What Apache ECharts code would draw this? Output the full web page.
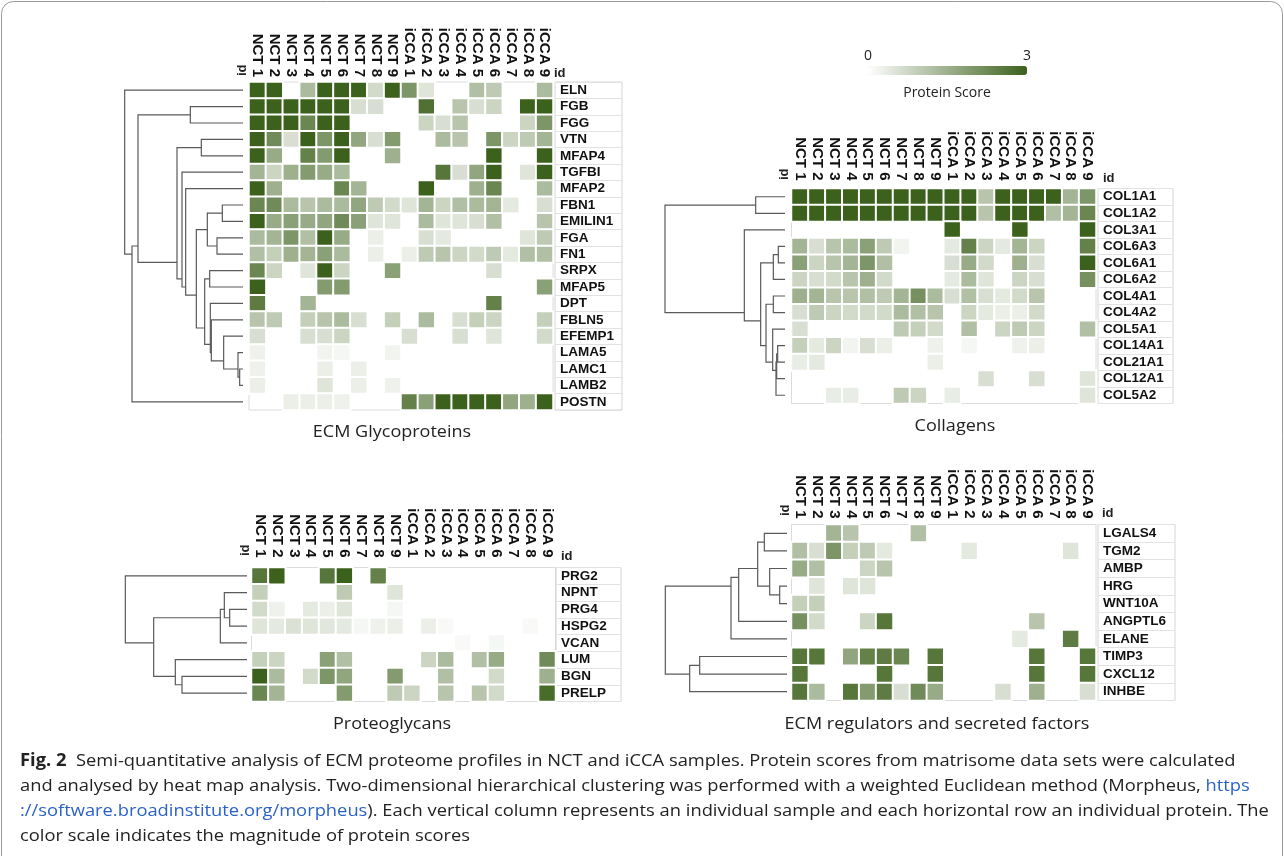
<!DOCTYPE html>
<html><head><meta charset="utf-8">
<script src="https://cdn.jsdelivr.net/npm/echarts@6/dist/echarts.min.js"></script>
<style>html,body{margin:0;padding:0;background:#fff}#c{width:1284px;height:856px}</style>
</head><body><div id="c"></div>
<script>
// ---------------- DATA ----------------
const samples = ['NCT 1','NCT 2','NCT 3','NCT 4','NCT 5','NCT 6','NCT 7','NCT 8','NCT 9',
  'iCCA 1','iCCA 2','iCCA 3','iCCA 4','iCCA 5','iCCA 6','iCCA 7','iCCA 8','iCCA 9'];

const glycoRows = ['ELN','FGB','FGG','VTN','MFAP4','TGFBI','MFAP2','FBN1','EMILIN1','FGA','FN1','SRPX','MFAP5','DPT','FBLN5','EFEMP1','LAMA5','LAMC1','LAMB2','POSTN'];
const glycoValues = [
  [3,3,0,1.3,3,3,3,0.7,3,2,0.5,0,0,1.2,1,0,0,1.3],
  [3,3,3,3,3,3,0.6,0.6,0,0,2.7,0,1.1,0.6,0.8,0,3,3],
  [3,3,3,2.3,3,3,0,0,0,0,0.8,0.6,1.1,0,0,0,0.8,2],
  [3,2.2,0.6,3,2,3,1.7,0.6,1.9,0,0,1.3,1.1,0,2,0.8,1,1.4],
  [3,1.6,0,2.4,1.9,3,0,0,1.5,0,0,0,0,0,3,0,0,3],
  [1.4,0.8,1.5,1.9,1.6,1.3,0,0,0,0,0,2.6,0.6,1.7,3,0,0.5,3],
  [3,1.5,0,0,0,2.3,1.4,0,0,0,3,0,0,1.5,2.3,0,0,1.3],
  [2.3,2.2,1.3,1.1,1.3,1.3,1.7,1,0.7,0.5,1.4,0.8,1.2,1.3,1.4,0.4,0,0.6],
  [3,1.6,1.8,1.6,1.7,2.2,1.8,0.5,0.5,0,1.3,0.5,0.5,0.6,1.2,0,0,1.1],
  [1.3,1.4,2,1.2,3,1.6,0,0.3,0,0,0.6,0.4,0,0,0,0,0.5,1],
  [1.2,0.9,1.5,1.4,1.8,1.3,0,0.3,0,0.3,1,1.1,0.8,0.7,1,0.4,1.2,1.2],
  [2.3,0.8,0,0.5,3,0.8,0,0,1.8,0,0,0,0,0,0.6,0,0,0],
  [3,0,0,0,1.9,1.9,0,0,0,0,0,0,0,0,0,0,0,1.8],
  [2.5,0,0,1.4,0,0,0,0,0,0,0,0,0,0,2.4,0,0,0],
  [1.1,1,0,0.9,1.1,1.3,0.6,0,0.9,0,1.3,0,0.6,0.9,0.8,0,0,0.9],
  [0.6,0,0,0.6,0.6,0.8,0,0,0,0.6,0,0,0.6,0,0.5,0,0,0.7],
  [0.25,0,0,0,0.2,0.15,0,0,0.2,0,0,0,0,0,0,0,0,0],
  [0.25,0,0,0,0.3,0,0.3,0,0,0,0,0,0,0,0,0,0,0],
  [0.3,0,0,0,0.5,0,0.3,0,0.25,0,0,0,0,0,0,0,0,0],
  [0,0,0.3,0.3,0.3,0.25,0,0,0,2.4,1.8,3,3,3,3,1.7,1.5,3]
];
const glycoTree = [355,'ELN',[333,[315,[158,'FGB','FGG'],[198,[125,'VTN','MFAP4'],[183,'TGFBI',[172,'MFAP2',[140,[107,[62,'FBN1','EMILIN1'],[78,'FGA','FN1']],[115,[100,'SRPX','MFAP5'],[98,'DPT',[95,'FBLN5',[58,'EFEMP1',[15,'LAMA5',[10,'LAMC1','LAMB2']]]]]]]]]]],'POSTN']];

const collRows = ['COL1A1','COL1A2','COL3A1','COL6A3','COL6A1','COL6A2','COL4A1','COL4A2','COL5A1','COL14A1','COL21A1','COL12A1','COL5A2'];
const collValues = [
  [3,3,3,3,3,3,3,3,3,3,3,1.1,3,3,3,3,1.4,2],
  [3,3,3,3,3,3,3,3,3,3,3,1.1,3,3,3,1.2,1.4,2.3],
  [0,0,0,0,0,0,0,0,0,3,0,0,0,3,0,0,0,3],
  [1.4,0.6,1.1,1.3,1.8,1,0.2,0,0,0.4,2.4,0.8,0.4,1.4,0.8,0,0,2.4],
  [1.8,0.8,1.1,1.4,2,1.2,0,0,0,0.6,1.6,0.7,0,1.5,0.6,0,0,3],
  [0.8,0.6,0.7,1.1,1.5,0.7,0,0,0,0.4,1.3,0.5,0,0.8,0.6,0,0,2.1],
  [1.5,1.4,1.1,1.1,1.2,1,1.4,2.1,1.3,0.6,1.2,0.6,0.4,0.7,1.1,0,0,0],
  [0.6,1,0.8,0.7,0.7,0.7,1.3,1.2,1.1,0,0.8,0.4,0.3,0.3,0.7,0,0,0],
  [0.6,0,0,0,0,0,1,0.9,0.7,0,1.2,0,0.8,1,0.8,0,0,1.2],
  [0.9,0.4,0.8,0.2,0.6,0.3,0,0,0.25,0,0.15,0,0,0.25,0.3,0,0,0],
  [0.35,0.4,0,0,0,0,0,0,0.3,0,0,0,0,0,0,0,0,0],
  [0,0,0,0,0,0,0,0,0,0,0,0.6,0,0,0.6,0,0,0.5],
  [0,0,0.35,0.35,0,0,1,0.8,0,0.35,0,0,0,0,0,0,0,0.5]
];
const collTree = [360,[88,'COL1A1','COL1A2'],[122,'COL3A1',[73,[35,[20,'COL6A3','COL6A1'],'COL6A2'],[57,[35,'COL4A1','COL4A2'],[37,'COL5A1',[27,[25,[22,'COL14A1','COL21A1'],'COL12A1'],'COL5A2']]]]]];

const proteoRows = ['PRG2','NPNT','PRG4','HSPG2','VCAN','LUM','BGN','PRELP'];
const proteoValues = [
  [2.6,3,0,0,2.6,3,0,2.4,0,0,0,0,0,0,0,0,0,0],
  [0.9,0,0,0,0,1,0,0,0.5,0,0,0,0,0,0,0,0,0],
  [0.7,0.25,0,0.4,0.3,0.5,0,0,0.15,0,0,0,0,0,0,0,0,0],
  [0.5,0.4,0.55,0.5,0.45,0.4,0.15,0.25,0.3,0,0.3,0.1,0,0,0,0,0.1,0],
  [0,0,0,0,0,0,0,0,0,0,0,0,0.1,0,0.15,0,0,0],
  [0.9,0.8,0,0,1.8,1.2,0,0,0,0,0.8,1.3,0,1.2,1.6,0,0,2.2],
  [3,1.3,0,0.7,2,1.7,0,0,1.9,0,0,1.2,0,0,0.7,0,0,1.5],
  [2.3,1.4,0,0,0,1.9,0,0,1,0.8,0,1.1,0,1.1,0.7,0,0,2.8]
];
const proteoTree = [365,'PRG2',[280,[80,[68,'NPNT',[52,'PRG4','HSPG2']],'VCAN'],[215,'LUM',[195,'BGN','PRELP']]]];

const regRows = ['LGALS4','TGM2','AMBP','HRG','WNT10A','ANGPTL6','ELANE','TIMP3','CXCL12','INHBE'];
const regValues = [
  [0,0,1.4,1.1,0,0,0,1.2,0,0,0,0,0,0,0,0,0,0],
  [1.2,0.6,2,0.9,1,0.4,0,0,0,0,0.4,0,0,0,0,0,0.5,0],
  [1.6,1.2,0,0,0.8,1.1,0,0,0,0,0,0,0,0,0,0,0,0],
  [0,0.5,0,0.5,0.5,0,0,0,0,0,0,0,0,0,0,0,0,0],
  [0.9,0.9,0,0,0,0,0,0,0,0,0,0,0,0,0,0,0,0],
  [2.1,0.7,0,0,0.8,2.6,0,0,0,0,0,0,0,0,1.1,0,0,0],
  [0,0,0,0,0,0,0,0,0,0,0,0,0,0.4,0,0,2.5,0],
  [2.6,2.6,0,1.7,2.4,2.5,2.3,0,2.6,0,0,0,0,0,2.6,0,0,2.6],
  [2.6,0,0,0,0,2.6,0,0,2.6,0,0,0,0,0,2.6,0,0,2.6],
  [2.6,1.3,0,2.6,1.9,2.5,0.6,2.2,1.6,0,0,0,0.6,0,1.5,0,0,0.6]
];
const regTree = [365,[168,[145,[88,[68,'LGALS4','TGM2'],[52,'AMBP',[22,'HRG','WNT10A']]],'ANGPTL6'],'ELANE'],[292,[262,'TIMP3','CXCL12'],'INHBE']];

const panelTitles = ['ECM Glycoproteins','Collagens','Proteoglycans','ECM regulators and secreted factors'];
const idLabel = 'id';
const scaleMin = 0, scaleMax = 3;
const scaleTicks = ['0','3'];
const scaleName = 'Protein Score';
const captionLines = [
  '{b|Fig. 2}  Semi-quantitative analysis of ECM proteome profiles in NCT and iCCA samples. Protein scores from matrisome data sets were calculated',
  'and analysed by heat map analysis. Two-dimensional hierarchical clustering was performed with a weighted Euclidean method (Morpheus, {a|https}',
  '{a|://software.broadinstitute.org/morpheus}). Each vertical column represents an individual sample and each horizontal row an individual protein. The',
  'color scale indicates the magnitude of protein scores'
];

// ---------------- LAYOUT ----------------
const panels = [
  {rows:glycoRows, values:glycoValues, tree:glycoTree,
   hm:{left:249, top:82, width:304, height:328}, lab:{left:555, width:67}, den:{right:243, width:120, max:360},
   margin:5, idL:[242,76], idR:[554,73], title:[392,432]},
  {rows:collRows, values:collValues, tree:collTree,
   hm:{left:791.5, top:188.5, width:304.5, height:215}, lab:{left:1098, width:75}, den:{right:785, width:120, max:360},
   margin:8, idL:[784,180], idR:[1103,178], title:[955,426]},
  {rows:proteoRows, values:proteoValues, tree:proteoTree,
   hm:{left:251.5, top:567.5, width:304, height:134}, lab:{left:556, width:65}, den:{right:247, width:122, max:366},
   margin:10, idL:[245,556], idR:[561,556], title:[392,724]},
  {rows:regRows, values:regValues, tree:regTree,
   hm:{left:791.5, top:524.5, width:304.5, height:176}, lab:{left:1098, width:77}, den:{right:787, width:122, max:366},
   margin:6, idL:[785,516], idR:[1102,513], title:[937,724]}
];

const LABEL_FONT = 'Liberation Sans, Arial, Helvetica, sans-serif';
const TITLE_FONT = 'Open Sans, Noto Sans, sans-serif';

function buildDendro(tree, rows) {
  const items = [];
  function walk(node) {
    if (typeof node === 'string') { const i = rows.indexOf(node); return {pos:i, h:0, leaves:[i]}; }
    const h = node[0], L = walk(node[1]), R = walk(node[2]);
    items.push([h, L.pos, R.pos, L.h, R.h]);
    const leaves = L.leaves.concat(R.leaves);
    return {pos: leaves.reduce((s, v) => s + v, 0) / leaves.length, h: h, leaves: leaves};
  }
  walk(tree);
  return items;
}

function txt(x, y, text, size, family, align, extra, weight) {
  return Object.assign({type: 'text', x: x, y: y,
    style: {text: text, fontSize: size, fontFamily: family, fontWeight: weight || 'normal', fill: '#222', textAlign: align, textVerticalAlign: 'middle', align: align, verticalAlign: 'middle'}}, extra || {});
}

const grid = [], xAxis = [], yAxis = [], series = [], graphic = [], hmSeries = [];
panels.forEach((p, k) => {
  const n = p.rows.length;
  const g0 = grid.length;
  grid.push({left: p.den.right - p.den.width, top: p.hm.top, width: p.den.width, height: p.hm.height, show: false});
  grid.push({left: p.hm.left, top: p.hm.top, width: p.hm.width, height: p.hm.height, show: true, borderColor: '#dcdcdc', borderWidth: 1, backgroundColor: 'transparent'});
  grid.push({left: p.lab.left, top: p.hm.top, width: p.lab.width, height: p.hm.height, show: true, borderColor: '#d4d4d4', borderWidth: 1});

  xAxis.push({gridIndex: g0, type: 'value', min: 0, max: p.den.max, inverse: true, show: false});
  xAxis.push({gridIndex: g0 + 1, type: 'category', data: samples, position: 'top',
    axisLine: {show: false}, axisTick: {show: false}, splitLine: {show: false},
    axisLabel: {rotate: 90, margin: p.margin, fontSize: 15, fontWeight: 'bold', fontFamily: LABEL_FONT, color: '#111', interval: 0}});
  xAxis.push({gridIndex: g0 + 2, type: 'value', show: false});

  yAxis.push({gridIndex: g0, type: 'value', min: -0.5, max: n - 0.5, inverse: true, show: false});
  yAxis.push({gridIndex: g0 + 1, type: 'category', data: p.rows, inverse: true, show: false});
  yAxis.push({gridIndex: g0 + 2, type: 'category', data: p.rows, inverse: true, position: 'left',
    axisLine: {show: false}, axisTick: {show: false},
    splitLine: {show: true, lineStyle: {color: '#e2e2e2', width: 1}},
    axisLabel: {inside: true, margin: 5, fontSize: 13.5, fontWeight: 'bold', fontFamily: LABEL_FONT, color: '#111', interval: 0}});

  const data = [];
  p.values.forEach((row, r) => row.forEach((v, c) => { if (v > 0) data.push([c, r, v]); }));
  hmSeries.push(series.length);
  series.push({type: 'heatmap', xAxisIndex: g0 + 1, yAxisIndex: g0 + 1, data: data,
    itemStyle: {borderColor: '#fff', borderWidth: 2}, emphasis: {disabled: true}, progressive: 0});

  series.push({type: 'custom', xAxisIndex: g0, yAxisIndex: g0, data: buildDendro(p.tree, p.rows),
    encode: {x: [0, 3, 4], y: [1, 2]}, clip: false, silent: true,
    renderItem: function (params, api) {
      const h = api.value(0), y1 = api.value(1), y2 = api.value(2), h1 = api.value(3), h2 = api.value(4);
      const pts = [api.coord([h1, y1]), api.coord([h, y1]), api.coord([h, y2]), api.coord([h2, y2])];
      return {type: 'polyline', shape: {points: pts}, style: {stroke: '#5a5a5a', lineWidth: 1.2, fill: null}};
    }});

  graphic.push(txt(p.idL[0], p.idL[1], idLabel, 13, LABEL_FONT, 'left', {rotation: Math.PI / 2}, 'bold'));
  graphic.push(txt(p.idR[0], p.idR[1], idLabel, 13, LABEL_FONT, 'left', null, 'bold'));
  graphic.push(txt(p.title[0], p.title[1], panelTitles[k], 17, TITLE_FONT, 'center', {scaleX: 1.06, originX: 0}));
});

graphic.push(txt(868, 56, scaleTicks[0], 14, TITLE_FONT, 'center'));
graphic.push(txt(1027, 56, scaleTicks[1], 14, TITLE_FONT, 'center'));
graphic.push(txt(947, 93, scaleName, 14, TITLE_FONT, 'center'));

captionLines.forEach((t, i) => {
  const el = txt(20, 761 + i * 25, t, 17, TITLE_FONT, 'left', {scaleX: 1.078});
  el.style.rich = {b: {fontWeight: 'bold', fontSize: 17, fontFamily: TITLE_FONT, fill: '#222', color: '#222'},
                   a: {fontSize: 17, fontFamily: TITLE_FONT, fill: '#2a62c9', color: '#2a62c9'}};
  graphic.push(el);
});
graphic.push({type: 'rect', shape: {x: 1.5, y: 1.5, width: 1281, height: 900, r: 12}, style: {fill: null, stroke: '#9a9a9a', lineWidth: 1}, z: -1});

const chart = echarts.init(document.getElementById('c'), null, {renderer: 'canvas'});
chart.setOption({
  animation: false,
  backgroundColor: '#fff',
  grid: grid, xAxis: xAxis, yAxis: yAxis, series: series, graphic: graphic,
  visualMap: {type: 'continuous', min: scaleMin, max: scaleMax, seriesIndex: hmSeries, orient: 'horizontal',
    left: 868, top: 66, itemWidth: 9, itemHeight: 159, text: null, showLabel: false, calculable: false, padding: 0,
    inRange: {color: ['#ffffff', '#3c611c']}, textStyle: {color: 'transparent'}}
});
</script></body></html>
